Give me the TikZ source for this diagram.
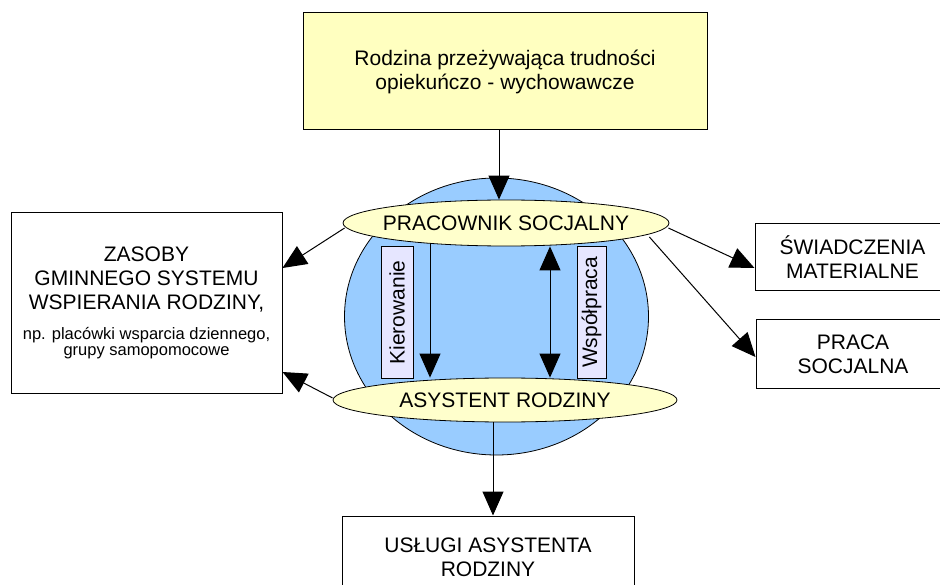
\documentclass[tikz,border=0pt]{standalone}
\usepackage{fontspec}
\setmainfont{Liberation Sans}
\usepackage{xcolor}
\usetikzlibrary{shapes,arrows,positioning,calc,arrows.meta}
\definecolor{boxyellow}{HTML}{FFFFC0}
\definecolor{ovalyellow}{HTML}{FFFFCC}
\definecolor{circleblue}{HTML}{99CCFF}
\definecolor{tagviolet}{HTML}{E6E6FF}

\begin{document}
\begin{tikzpicture}[x=1pt, y=-1pt,
    box/.style={draw, rectangle, line width=1pt, align=center, inner sep=0pt, font=\fontsize{21}{24}\selectfont},
    oval/.style={draw, ellipse, fill=ovalyellow, line width=0.8pt, inner sep=0pt, font=\fontsize{21}{24}\selectfont},
    tag/.style={draw, rectangle, fill=tagviolet, line width=1pt, rotate=90, inner sep=0pt, minimum width=131pt, font=\fontsize{21}{24}\selectfont},
    arr/.style={-{Triangle[length=24pt,width=21pt]}, line width=1pt},
    darr/.style={{Triangle[length=24pt,width=21pt]}-{Triangle[length=24pt,width=21pt]}, line width=1pt}
]
    \useasboundingbox (0,0) rectangle (940,585);

    % Circle behind the two roles
    \node [draw, ellipse, fill=circleblue, line width=0.8pt, minimum width=304pt, minimum height=277pt] (krag) at (496.5,316.5) {};

    % Boxes
    \node [box, fill=boxyellow, minimum width=404pt, minimum height=117pt] (rodzina) at (505,71.5) {Rodzina przeżywająca trudności\\opiekuńczo - wychowawcze};
    \node [box, minimum width=271pt, minimum height=180pt] (zasoby) at (146.5,303) {ZASOBY\\GMINNEGO SYSTEMU\\WSPIERANIA RODZINY,\\[6pt]{\fontsize{16.5}{16}\selectfont np. placówki wsparcia dziennego,}\\[-8pt]{\fontsize{16.5}{16}\selectfont grupy samopomocowe}};
    \node [box, minimum width=195pt, minimum height=67pt] (swiad) at (852.5,257.5) {ŚWIADCZENIA\\MATERIALNE};
    \node [box, minimum width=194pt, minimum height=68pt] (praca) at (853,354) {PRACA\\SOCJALNA};
    \node [box, minimum width=292pt, minimum height=82pt] (uslugi) at (488,557) {USŁUGI ASYSTENTA\\RODZINY};

    % Kierowanie arrow (under the ovals)
    \coordinate (kx) at (430,0);
    \coordinate (wx) at (550,0);
    \node [oval, minimum width=344pt, minimum height=44pt] (ar) at (505,400) {\makebox[0pt]{ASYSTENT RODZINY}};
    \draw [arr] (kx |- 0,223) -- (kx |- ar.north);
    \node [oval, minimum width=326pt, minimum height=46pt] (ps) at (506,223) {\makebox[0pt]{PRACOWNIK SOCJALNY}};
    \draw [darr] (wx |- ps.south) -- (wx |- ar.north);

    % Labels on the vertical arrows
    \node [tag, minimum height=32pt] (kier) at (397,312.5) {Kierowanie};
    \node [tag, minimum height=29pt] (wsp) at (591.5,312.5) {Współpraca};

    % Connectors
    \draw [arr] ($(rodzina.south)+(-6,0)$) -- ($(ps.north)+(-7,0)$);
    \draw [arr] ($(ps.west)+(2,5)$) -- ($(zasoby.east)+(0,-35)$);
    \draw [arr] ($(ar.west)+(0,-2)$) -- ($(zasoby.east)+(0,69)$);
    \draw [arr] ($(ps.east)+(-1,5)$) -- ($(swiad.west)+(0,10.5)$);
    \draw [arr] ($(ps.east)+(-20,14)$) -- ($(praca.west)+(0,3)$);
    \coordinate (ub) at ($(uslugi.north)+(5,0)$);
    \draw [arr] (ar.south -| ub) -- (ub);
\end{tikzpicture}
\end{document}
